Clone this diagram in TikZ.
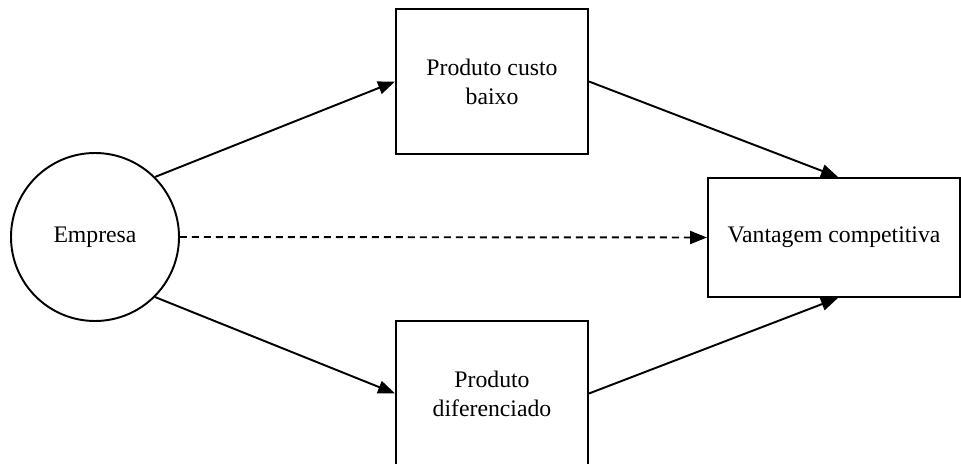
\documentclass[tikz,border=0pt]{standalone}
\usepackage{fontspec}
\setmainfont{Liberation Serif}
\usetikzlibrary{arrows.meta}
\tikzset{main node/.style={circle,draw,line width=1.1pt,minimum size=3.36cm,inner sep=0pt,font=\fontsize{13.5}{16.5}\selectfont},
            box node/.style={rectangle,draw,line width=1.1pt,align=center,inner sep=0pt,font=\fontsize{13.5}{16.5}\selectfont},
            link/.style={line width=1.1pt,-{Triangle[length=0.34cm,width=0.26cm]}},
            }
\begin{document}
\begin{tikzpicture}
				\useasboundingbox (0,0) rectangle (19.22,9.26);
				\node[main node] (E) at (1.9,4.52) {Empresa};
				\node[box node,minimum width=3.84cm,minimum height=2.9cm] (B) at (9.84,7.63) {Produto custo\\baixo};
				\node[box node,minimum width=3.84cm,minimum height=2.9cm] (D) at (9.84,1.39) {Produto\\diferenciado};
				\node[box node,minimum width=5.04cm,minimum height=2.38cm] (V) at (16.68,4.51) {Vantagem competitiva};
				
				\draw[link] (E.45) to (B.west);
				\draw[link] (E.-45) to (D.west);
				\draw[link,dash pattern=on 0.14cm off 0.1cm] (E.east) to (V.west);
				\draw[link] (B.east) to ([xshift=0.08cm]V.north);
				\draw[link] (D.east) to ([xshift=0.08cm]V.south);
			\end{tikzpicture}
\end{document}
